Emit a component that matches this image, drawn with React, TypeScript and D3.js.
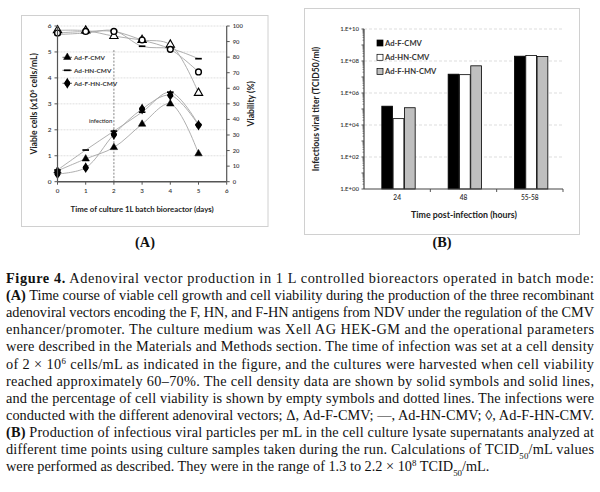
import React from 'react';
import * as d3 from 'd3';

// ---------- Panel A data ----------
const days = [0, 1, 2, 3, 4, 5];
const cellsF = [0.42, 0.88, 1.32, 2.22, 3.0, 1.08];
const cellsHN = [0.45, 1.22, 1.95, 2.68, 3.45, 2.2];
const cellsFHN = [0.3, 0.54, 1.82, 2.8, 3.33, 2.18];
const viaF = [97.2, 97, 93.5, 91, 88, 57];
const viaHN = [94.5, 95.5, 97, 87, 85.5, 79];
const viaFHN = [95.5, 96.5, 96.5, 91, 85, 70.5];
const seriesNames = ['Ad-F-CMV', 'Ad-HN-CMV', 'Ad-F-HN-CMV'];
const leftTicks = [0, 1, 2, 3, 4, 5, 6];
const rightTicks = [0, 10, 20, 30, 40, 50, 60, 70, 80, 90, 100];
const dayTicks = [0, 1, 2, 3, 4, 5, 6];
const infectionDay = 2;
const infectionTop = 5.07;

// ---------- Panel B data ----------
const hpiCats = ['24', '48', '55-58'];
const titerF = [1.5e5, 1.5e7, 2.0e8];
const titerHN = [2.5e4, 1.4e7, 2.2e8];
const titerFHN = [1.2e5, 5.0e7, 1.9e8];
const titerTicks = [1e0, 1e2, 1e4, 1e6, 1e8, 1e10];
const titerTickLabels = ['1.E+00', '1.E+02', '1.E+04', '1.E+06', '1.E+08', '1.E+10'];

// ---------- Caption ----------
const captionLines: { b?: string; t: string; sup?: string; rest?: string }[] = [
  { b: 'Figure 4.', t: '  Adenoviral vector production in 1 L controlled bioreactors operated in batch mode:' },
  { b: '(A)', t: ' Time course of viable cell growth and cell viability during the production of the three recombinant' },
  { t: 'adenoviral vectors encoding the F, HN, and F-HN antigens from NDV under the regulation of the CMV' },
  { t: 'enhancer/promoter.  The culture medium was Xell AG HEK-GM and the operational parameters' },
  { t: 'were described in the Materials and Methods section. The time of infection was set at a cell density' },
  { t: 'of 2 \u00d7 10', sup: '6', rest: ' cells/mL as indicated in the figure, and the cultures were harvested when cell viability' },
  { t: 'reached approximately 60\u201370%. The cell density data are shown by solid symbols and solid lines,' },
  { t: 'and the percentage of cell viability is shown by empty symbols and dotted lines. The infections were' },
  { t: 'conducted with the different adenoviral vectors; \u0394, Ad-F-CMV; \u2014, Ad-HN-CMV; \u25ca, Ad-F-HN-CMV.' },
  { b: '(B)', t: ' Production of infectious viral particles per mL in the cell culture lysate supernatants analyzed at' },
];

const chartFont = "Lato, 'Open Sans', sans-serif";
const serif = "'Liberation Serif', serif";

function Marker({ kind, filled, x, y }: { kind: number; filled: boolean; x: number; y: number }) {
  if (kind === 0) {
    const p = d3.symbol(d3.symbolTriangle, filled ? 24 : 30)() as string;
    return (
      <path d={p} transform={`translate(${x},${y})`} fill={filled ? '#000' : '#fff'} stroke="#000" strokeWidth={filled ? 0.5 : 1.1} />
    );
  }
  if (kind === 1) {
    return <line x1={x - 3.3} x2={x + 3.3} y1={y} y2={y} stroke="#000" strokeWidth={1.7} />;
  }
  if (filled) {
    const p = d3.symbol(d3.symbolDiamond, 34)() as string;
    return (
      <g transform={`translate(${x},${y})`}>
        <path d={p} fill="#000" />
        <circle r={2.8} fill="#000" />
      </g>
    );
  }
  return <circle cx={x} cy={y} r={2.9} fill="#fff" stroke="#000" strokeWidth={1.4} />;
}

function PanelA() {
  const x = d3.scaleLinear([0, 6], [57.5, 226.7]);
  const yL = d3.scaleLinear([0, 6], [181.7, 26]);
  const yR = d3.scaleLinear([0, 100], [181.7, 26]);
  const cells = [cellsF, cellsHN, cellsFHN];
  const vias = [viaF, viaHN, viaFHN];
  const lineL = d3.line<number>().x((_, i) => x(days[i])).y((d) => yL(d)).curve(d3.curveCatmullRom.alpha(0.5));
  const lineR = d3.line<number>().x((_, i) => x(days[i])).y((d) => yR(d)).curve(d3.curveCatmullRom.alpha(0.5));
  const axisColor = '#555';
  return (
    <g fontFamily={chartFont}>
      <rect x={21.5} y={15.5} width={246.5} height={211} fill="#fff" stroke="#d0d0d0" strokeWidth={1} />
      {leftTicks.filter((t) => t > 0).map((t) => (
        <line key={t} x1={x(0)} x2={x(6)} y1={yL(t)} y2={yL(t)} stroke="#d8d8d8" strokeWidth={0.8} strokeDasharray="2,1" />
      ))}
      <line x1={x(infectionDay)} x2={x(infectionDay)} y1={yL(infectionTop)} y2={yL(0)} stroke="#666" strokeWidth={0.8} strokeDasharray="2,1.5" />
      <text x={x(infectionDay) - 1.5} y={yL(2.25)} fontSize={6} fontWeight={600} textAnchor="end" fill="#333">infection</text>
      {cells.map((s, i) => (
        <path key={'c' + i} d={lineL(s) as string} fill="none" stroke="#a6a6a6" strokeWidth={0.9} />
      ))}
      {vias.map((s, i) => (
        <path key={'v' + i} d={lineR(s) as string} fill="none" stroke="#a6a6a6" strokeWidth={0.9} />
      ))}
      {vias.map((s, i) =>
        s.map((v, j) => <Marker key={`vm${i}-${j}`} kind={i} filled={false} x={x(days[j])} y={yR(v)} />)
      )}
      {cells.map((s, i) =>
        s.map((v, j) => <Marker key={`cm${i}-${j}`} kind={i} filled={true} x={x(days[j])} y={yL(v)} />)
      )}
      <line x1={x(0)} x2={x(0)} y1={yL(0)} y2={yL(6)} stroke={axisColor} strokeWidth={1.2} />
      <line x1={x(6)} x2={x(6)} y1={yL(0)} y2={yL(6)} stroke={axisColor} strokeWidth={1.2} />
      <line x1={x(0)} x2={x(6)} y1={yL(0)} y2={yL(0)} stroke={axisColor} strokeWidth={1.4} />
      {leftTicks.map((t) => (
        <g key={'lt' + t}>
          <line x1={x(0) - 3} x2={x(0)} y1={yL(t)} y2={yL(t)} stroke={axisColor} strokeWidth={1} />
          <text x={x(0) - 6} y={yL(t) + 2.2} fontSize={6.5} fontWeight={600} textAnchor="end" fill="#333">{t}</text>
        </g>
      ))}
      {rightTicks.map((t) => (
        <g key={'rt' + t}>
          <line x1={x(6)} x2={x(6) + 3} y1={yR(t)} y2={yR(t)} stroke={axisColor} strokeWidth={1} />
          <text x={x(6) + 6} y={yR(t) + 2} fontSize={5.8} fontWeight={600} textAnchor="start" fill="#333">{t}</text>
        </g>
      ))}
      {dayTicks.map((t) => (
        <g key={'dt' + t}>
          <line x1={x(t)} x2={x(t)} y1={yL(0)} y2={yL(0) + 3} stroke={axisColor} strokeWidth={1} />
          <text x={x(t)} y={yL(0) + 11} fontSize={6.2} fontWeight={600} textAnchor="middle" fill="#333">{t}</text>
        </g>
      ))}
      {seriesNames.map((n, i) => {
        const ly = 57.3 + i * 13;
        return (
          <g key={'lg' + i}>
            <line x1={62.5} x2={72} y1={ly} y2={ly} stroke="#555" strokeWidth={0.9} />
            <Marker kind={i} filled={true} x={67.3} y={ly} />
            <text x={74} y={ly + 2.2} fontSize={6.4} fontWeight={700} fill="#333">{n}</text>
          </g>
        );
      })}
      <text x={x(3)} y={212} fontSize={7.8} fontWeight={700} textAnchor="middle" fill="#222">
        Time of culture 1L batch bioreactor (days)
      </text>
      <text transform={`translate(37,${yL(3)}) rotate(-90)`} fontSize={8.6} fontWeight={700} textAnchor="middle" fill="#222">
        Viable cells (x10<tspan baselineShift="super" fontSize={5.4}>6</tspan> cells/mL)
      </text>
      <text transform={`translate(254,${yL(3)}) rotate(-90)`} fontSize={8.6} fontWeight={700} textAnchor="middle" fill="#222">
        Viability (%)
      </text>
    </g>
  );
}

function PanelB() {
  const x0 = d3.scaleBand(hpiCats, [364, 563]);
  const bw = x0.bandwidth();
  const x1 = d3.scaleBand([0, 1, 2], [bw * 0.26, bw * 0.78]).padding(0.05);
  const y = d3.scaleLog([1, 1e10], [189, 29]);
  const series = [titerF, titerHN, titerFHN];
  const fills = ['#000', '#fff', '#bfbfbf'];
  const minor: number[] = [];
  for (let k = 0; k < 10; k++) for (let m = 2; m <= 9; m++) minor.push(m * Math.pow(10, k));
  const majorAll: number[] = d3.range(0, 11).map((k) => Math.pow(10, k));
  const axisColor = '#444';
  return (
    <g fontFamily={chartFont}>
      <rect x={304.5} y={8.5} width={275} height={226} fill="#fff" stroke="#d0d0d0" strokeWidth={1} />
      {titerTicks.filter((t) => t > 1).map((t) => (
        <line key={'g' + t} x1={364} x2={563} y1={y(t)} y2={y(t)} stroke="#d4d4d4" strokeWidth={0.8} strokeDasharray="3,2" />
      ))}
      {hpiCats.map((c, ci) =>
        series.map((s, si) => (
          <rect
            key={`b${ci}-${si}`}
            x={(x0(c) as number) + (x1(si) as number)}
            y={y(s[ci])}
            width={x1.bandwidth()}
            height={y(1) - y(s[ci])}
            fill={fills[si]}
            stroke="#000"
            strokeWidth={0.8}
          />
        ))
      )}
      <line x1={364} x2={364} y1={y(1)} y2={y(1e10)} stroke={axisColor} strokeWidth={1.2} />
      {minor.map((t, i) => (
        <line key={'mi' + i} x1={362.5} x2={364} y1={y(t)} y2={y(t)} stroke={axisColor} strokeWidth={0.6} />
      ))}
      {majorAll.map((t, i) => (
        <line key={'ma' + i} x1={361.5} x2={364} y1={y(t)} y2={y(t)} stroke={axisColor} strokeWidth={0.9} />
      ))}
      {titerTicks.map((t, i) => (
        <text key={'tl' + i} x={359} y={y(t) + 2} fontSize={6} fontWeight={600} textAnchor="end" fill="#333">{titerTickLabels[i]}</text>
      ))}
      <line x1={364} x2={563} y1={y(1)} y2={y(1)} stroke={axisColor} strokeWidth={1.2} />
      {hpiCats.map((c) => (
        <g key={'xc' + c}>
          <line x1={(x0(c) as number) + bw} x2={(x0(c) as number) + bw} y1={y(1)} y2={y(1) + 3} stroke={axisColor} strokeWidth={0.9} />
          <text x={(x0(c) as number) + bw / 2} y={y(1) + 11} fontSize={6.6} fontWeight={600} textAnchor="middle" fill="#333">{c}</text>
        </g>
      ))}
      {seriesNames.map((n, i) => {
        const ly = 43 + i * 14.3;
        return (
          <g key={'lb' + i}>
            <rect x={377} y={ly - 3} width={6} height={6} fill={fills[i]} stroke="#000" strokeWidth={0.7} />
            <text x={385} y={ly + 2.6} fontSize={7.6} fontWeight={700} fill="#333">{n}</text>
          </g>
        );
      })}
      <text x={464} y={218} fontSize={8.8} fontWeight={700} textAnchor="middle" fill="#222">Time post-infection (hours)</text>
      <text transform={`translate(319,${y(1e5)}) rotate(-90)`} fontSize={8.6} fontWeight={700} textAnchor="middle" fill="#222">
        Infectious viral titer (TCID50/ml)
      </text>
    </g>
  );
}

function Caption() {
  const x0 = 6;
  const width = 588;
  const base = 283;
  const lh = 17.1;
  const fs = 14.3;
  return (
    <g fontFamily={serif} fontSize={fs} fill="#111">
      <text x={145} y={247} fontWeight={700} textAnchor="middle">(A)</text>
      <text x={442} y={247} fontWeight={700} textAnchor="middle">(B)</text>
      {captionLines.map((l, i) => (
        <text key={i} x={x0} y={base + i * lh} textLength={width} lengthAdjust="spacing">
          {l.b ? <tspan fontWeight={700}>{l.b}</tspan> : null}
          <tspan>{l.t}</tspan>
          {l.sup ? <tspan baselineShift="super" fontSize={fs * 0.62}>{l.sup}</tspan> : null}
          {l.rest ? <tspan>{l.rest}</tspan> : null}
        </text>
      ))}
      <text x={x0} y={base + 10 * lh} textLength={width} lengthAdjust="spacing">
        <tspan>different time points using culture samples taken during the run. Calculations of TCID</tspan>
        <tspan baselineShift="sub" fontSize={fs * 0.62}>50</tspan>
        <tspan>/mL values</tspan>
      </text>
      <text x={x0} y={base + 11 * lh}>
        <tspan>were performed as described. They were in the range of 1.3 to 2.2 {'\u00d7'} 10</tspan>
        <tspan baselineShift="super" fontSize={fs * 0.62}>8</tspan>
        <tspan> TCID</tspan>
        <tspan baselineShift="sub" fontSize={fs * 0.62}>50</tspan>
        <tspan>/mL.</tspan>
      </text>
    </g>
  );
}

export default function App() {
  return (
    <svg width={600} height={492} style={{ position: 'absolute', left: 0, top: 0, background: '#fff' }}>
      <rect width={600} height={492} fill="#fff" />
      <PanelA />
      <PanelB />
      <Caption />
    </svg>
  );
}
